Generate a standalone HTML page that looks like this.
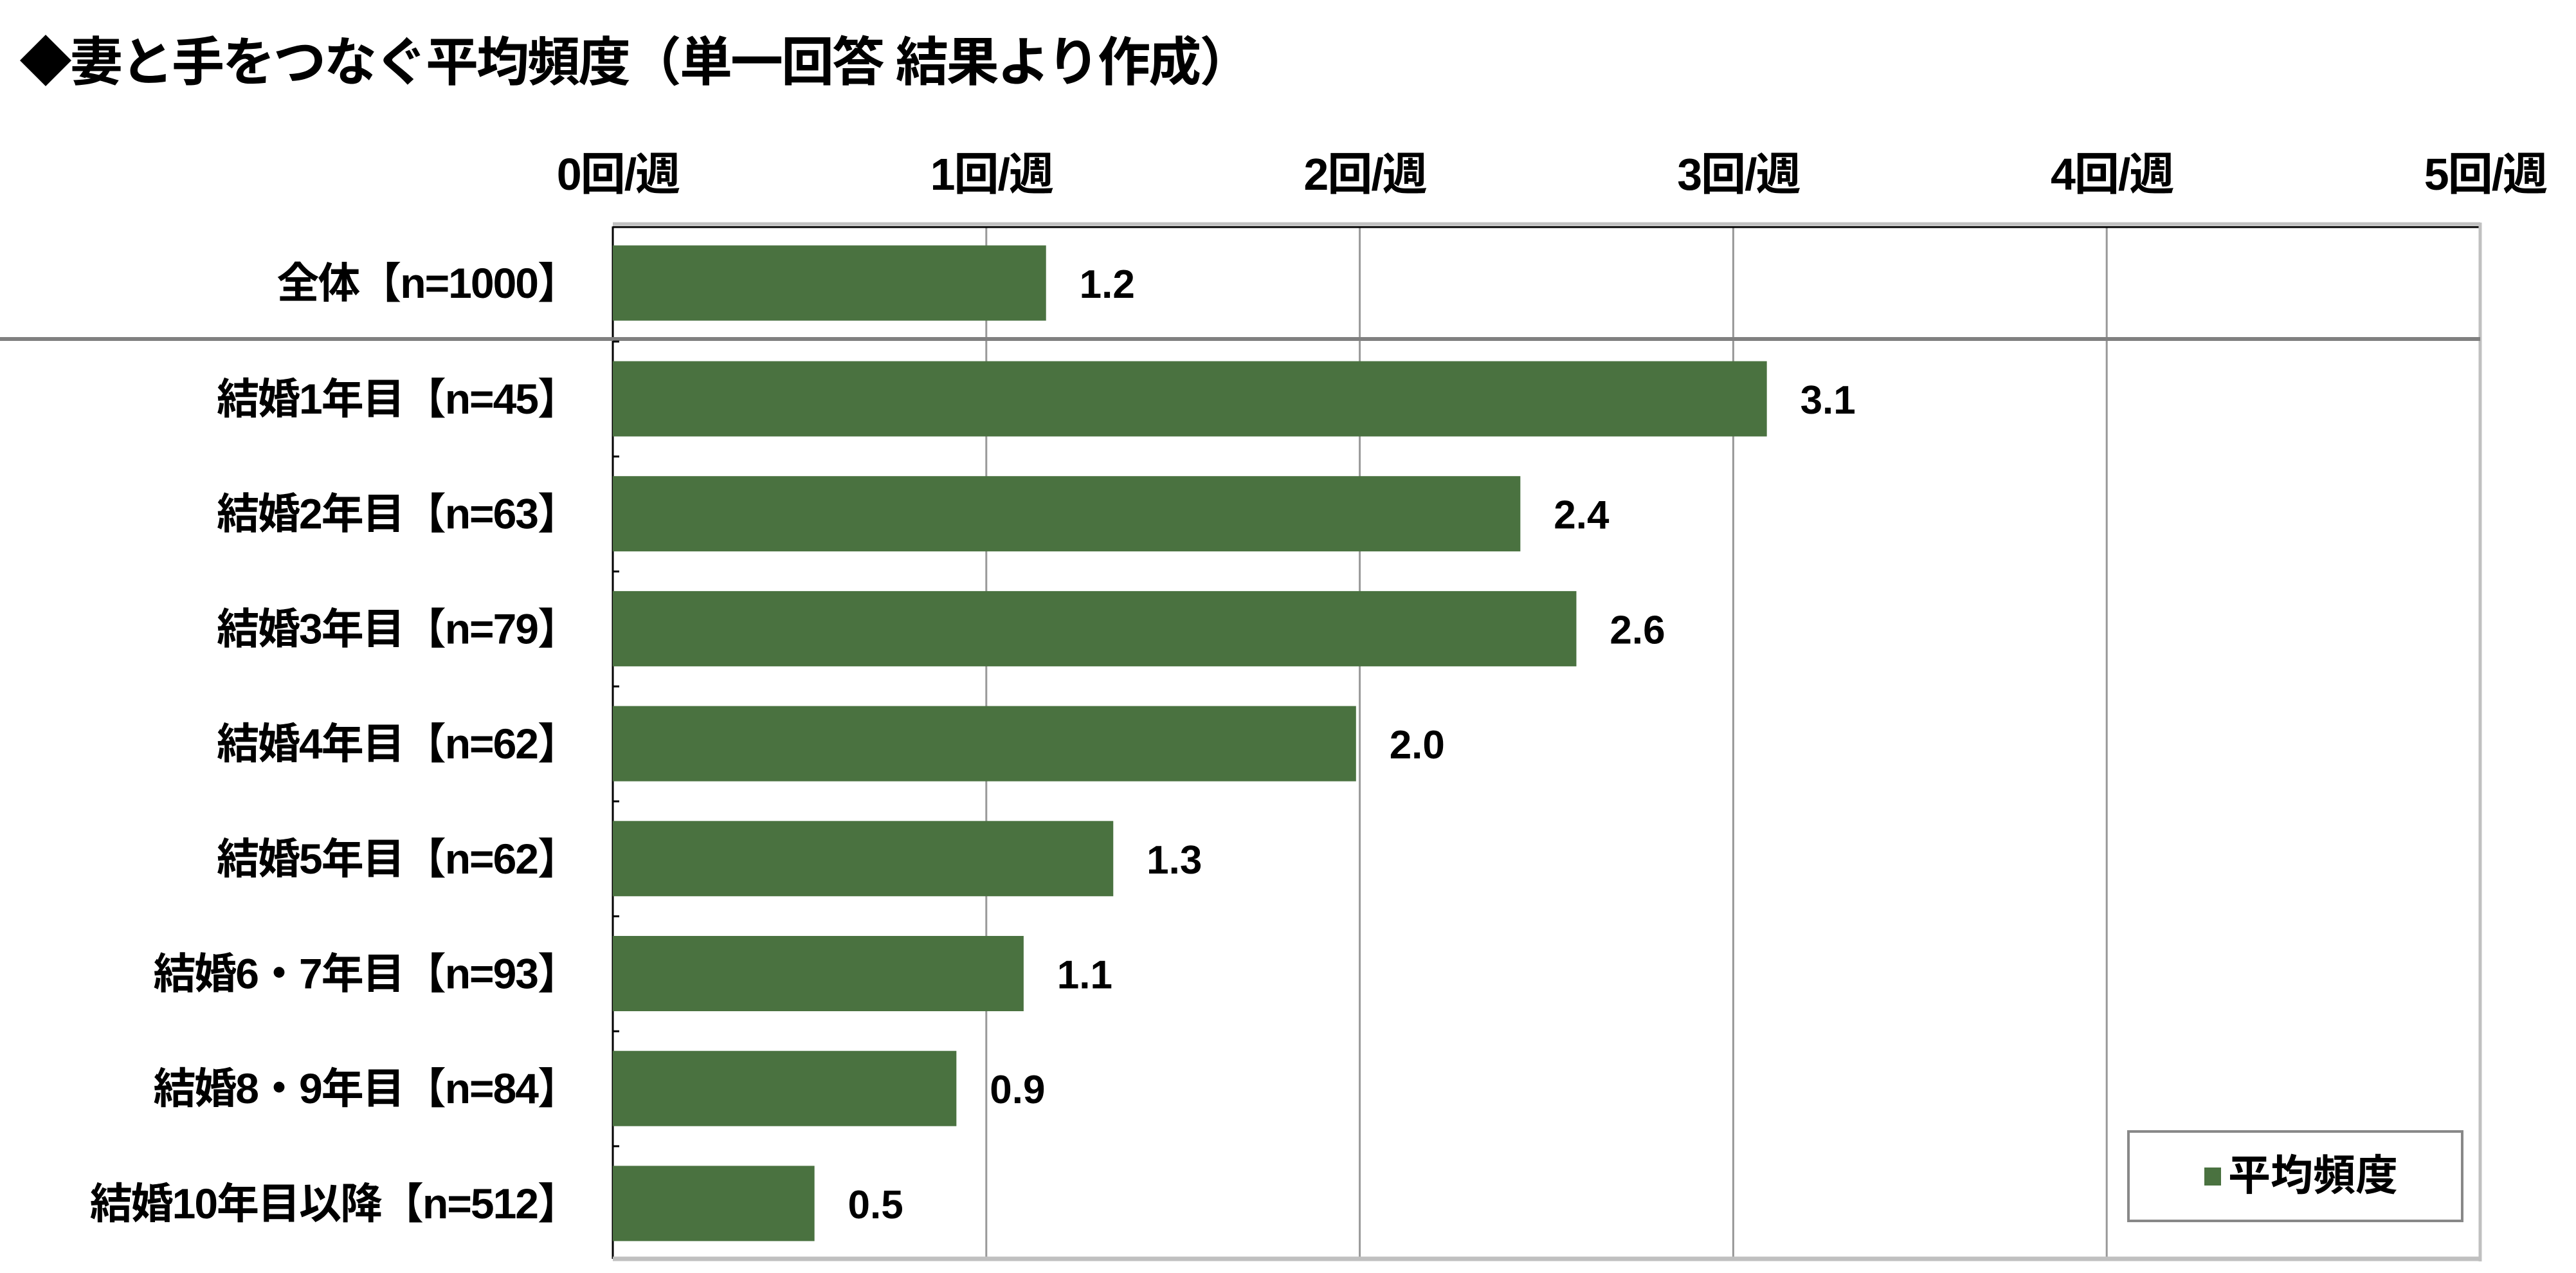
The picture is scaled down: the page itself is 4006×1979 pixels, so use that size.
<!DOCTYPE html>
<html><head><meta charset="utf-8"><style>
body{margin:0;background:#fff;}
svg{display:block;font-family:"Liberation Sans","Noto Sans CJK JP",sans-serif;font-weight:bold;}
</style></head><body>
<svg id="chart" width="4006" height="1979">
<text x="30" y="125" font-size="82" letter-spacing="-3">◆妻と手をつなぐ平均頻度（単一回答 結果より作成）</text>
<g id="grid"></g><g id="bars"></g>
<g>
<rect x="3310" y="1759" width="519" height="139" fill="#fff" stroke="#888" stroke-width="4"/>
<rect x="3428" y="1815" width="26" height="28" fill="#4a7240"/>
<text x="3465" y="1850" font-size="66">平均頻度</text>
</g>
</svg>
<script>
const categories=["全体【n=1000】","結婚1年目【n=45】","結婚2年目【n=63】","結婚3年目【n=79】","結婚4年目【n=62】","結婚5年目【n=62】","結婚6・7年目【n=93】","結婚8・9年目【n=84】","結婚10年目以降【n=512】"];
const values=[1.16,3.09,2.43,2.58,1.99,1.34,1.1,0.92,0.54];
const valueLabels=["1.2","3.1","2.4","2.6","2.0","1.3","1.1","0.9","0.5"];
const tickValues=[0,1,2,3,4,5];
const tickLabels=["0回/週","1回/週","2回/週","3回/週","4回/週","5回/週"];
const NS="http://www.w3.org/2000/svg";
const X0=953,X1=3857,TOP=352,BOT=1957,SEP=527;
const xs=v=>X0+(X1-X0)*v/5;
const rowCenter=i=>i===0?440:620+(i-1)*178.7;
const BH=117;
function mk(t,a,p){const e=document.createElementNS(NS,t);for(const k in a)e.setAttribute(k,a[k]);p.appendChild(e);return e;}
const grid=document.getElementById('grid'),bars=document.getElementById('bars');
tickValues.forEach((v,i)=>{
 const l=mk('line',{x1:xs(v),x2:xs(v),y1:TOP,y2:BOT,stroke:i===0?'#000':'#999','stroke-width':3},grid);
 
 
 const t=mk('text',{x:xs(v)+8,y:295,'font-size':70,'text-anchor':'middle','letter-spacing':-2},grid);
 t.textContent=tickLabels[i];
 
 
});
let e=mk('line',{x1:X0,x2:X1,y1:TOP-4,y2:TOP-4,stroke:'#c0c0c0','stroke-width':5},grid);


e=mk('line',{x1:X0,x2:X1,y1:TOP+1,y2:TOP+1,stroke:'#000','stroke-width':3},grid);


e=mk('line',{x1:X1,x2:X1,y1:TOP-6,y2:BOT+4,stroke:'#c0c0c0','stroke-width':5},grid);


e=mk('line',{x1:X0,x2:X1,y1:BOT,y2:BOT,stroke:'#c0c0c0','stroke-width':7},grid);


e=mk('line',{x1:0,x2:X1,y1:SEP,y2:SEP,stroke:'#808080','stroke-width':6},grid);


categories.forEach((c,i)=>{
 const cy=rowCenter(i);
 if(i>0){const tk=mk('line',{x1:X0,x2:X0+10,y1:cy-89,y2:cy-89,stroke:'#000','stroke-width':3},grid);
 
 }
 const r=mk('rect',{x:X0,y:cy-BH/2,width:xs(values[i])-X0,height:BH,fill:'#4a7240'},bars);
 
 
 const lb=mk('text',{x:xs(values[i])+95,y:cy+23,'font-size':62,'text-anchor':'middle'},bars);
 lb.textContent=valueLabels[i];
 
 
 const cl=mk('text',{x:900,y:cy+23,'font-size':66,'text-anchor':'end','letter-spacing':-2},bars);
 cl.textContent=c;
 
 
});
</script>
</body></html>
